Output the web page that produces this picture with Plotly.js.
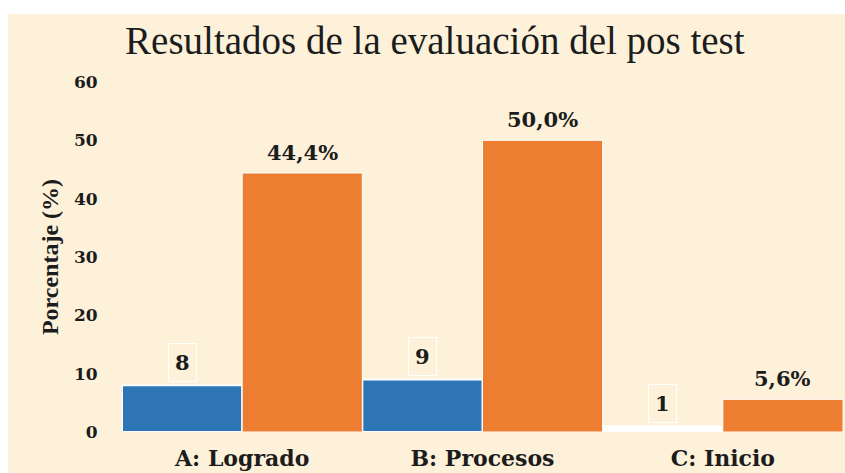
<!DOCTYPE html>
<html>
<head>
<meta charset="utf-8">
<script src="https://cdn.plot.ly/plotly-3.0.1.min.js"></script>
<style>
  html, body { margin: 0; padding: 0; background: #ffffff; width: 845px; height: 473px; overflow: hidden; }
  #chart { position: absolute; left: 8px; top: 14px; width: 837px; height: 459px; }
</style>
</head>
<body>
<div id="chart"></div>
<script>
const categories = ["A: Logrado", "B: Procesos", "C: Inicio"];
const counts = [8, 9, 1];
const percents = [44.4, 50.0, 5.6];
const countColors = ["#2E75B6", "#2E75B6", "#FFFFFF"];
const yTicks = [0, 10, 20, 30, 40, 50, 60];

const serif = "Liberation Serif";
const wide = "DejaVu Serif";
const ink = "#1c1c1c";

const traces = [
  {
    type: "bar", name: "Frecuencia", x: categories, y: counts,
    marker: { color: countColors, line: { color: "#FFFFFF", width: 2 } },
    hoverinfo: "none"
  },
  {
    type: "bar", name: "Porcentaje", x: categories, y: percents,
    marker: { color: "#ED7D31", line: { color: "#FFFFFF", width: 1 } },
    hoverinfo: "none"
  }
];

const annotations = [];
categories.forEach((c, i) => {
  annotations.push({
    x: c, y: counts[i], xref: "x", yref: "y", text: String(counts[i]),
    showarrow: false, xshift: -60, yshift: 23,
    font: { family: wide, size: 21, color: ink, weight: "bold" },
    bordercolor: "#FFFFFF", borderwidth: 1, borderpad: 6
  });
  annotations.push({
    x: c, y: percents[i], xref: "x", yref: "y",
    text: percents[i].toFixed(1).replace(".", ",") + "%",
    showarrow: false, xshift: 60, yshift: 21,
    font: { family: wide, size: 21, color: ink, weight: "bold" }
  });
});

const layout = {
  width: 837, height: 459,
  paper_bgcolor: "#FDF1DA", plot_bgcolor: "rgba(0,0,0,0)",
  margin: { l: 114, r: 2, t: 68, b: 41 },
  barmode: "group", bargap: 0, bargroupgap: 0,
  showlegend: false,
  title: {
    text: "Resultados de la evaluación del pos test",
    xref: "container", yref: "container", x: 0.51, y: 0.943,
    xanchor: "center", yanchor: "middle",
    font: { family: serif, size: 39, color: ink }
  },
  xaxis: {
    type: "category", showgrid: false, zeroline: false, showline: false,
    ticks: "outside", ticklen: 7, tickcolor: "rgba(0,0,0,0)",
    tickfont: { family: wide, size: 22, color: ink, weight: "bold" },
    fixedrange: true
  },
  yaxis: {
    range: [0, 60], tickvals: yTicks, ticktext: yTicks.map(String),
    showgrid: false, zeroline: false, showline: false,
    ticks: "outside", ticklen: 20, tickcolor: "rgba(0,0,0,0)",
    tickfont: { family: wide, size: 17, color: ink, weight: "bold" },
    title: { text: "Porcentaje (%)", standoff: 8,
      font: { family: serif, size: 24, color: ink, weight: "bold" } },
    automargin: false, fixedrange: true
  },
  annotations: annotations
};

Plotly.newPlot("chart", traces, layout, { displayModeBar: false, staticPlot: true });
</script>
</body>
</html>
